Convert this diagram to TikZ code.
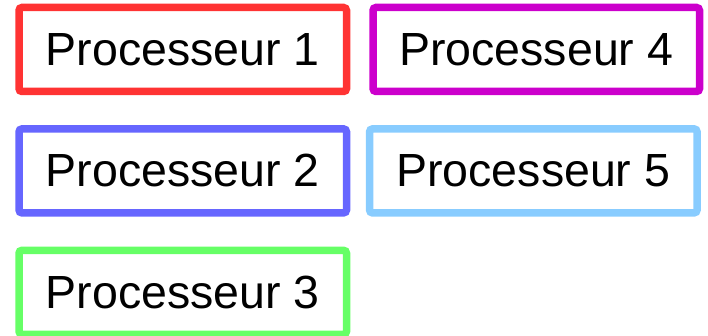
\documentclass[tikz,border=0pt]{standalone}
\usepackage{fontspec}
\setmainfont{Liberation Sans}
\definecolor{cA}{HTML}{FF3333}
\definecolor{cB}{HTML}{6666FF}
\definecolor{cC}{HTML}{66FF66}
\definecolor{cD}{HTML}{CC00CC}
\definecolor{cE}{HTML}{88CCFF}
\begin{document}
\begin{tikzpicture}[x=1pt,y=-1pt,
  proc/.style={draw=#1, line width=7.5pt, rounded corners=3pt, minimum width=327.5pt, minimum height=84pt, inner sep=0pt, font=\fontsize{46.5}{50}\selectfont, text=black}]
\useasboundingbox (0,0) rectangle (708,336);
\node[proc=cA] (p1) at (182.75,49.5) {Processeur 1};
\node[proc=cB] (p2) at (182.75,170.9) {Processeur 2};
\node[proc=cC] (p3) at (182.75,292.3) {Processeur 3};
\node[proc=cD, minimum width=326.5pt] (p4) at (536.25,49.5) {Processeur 4};
\node[proc=cE] (p5) at (533.3,170.9) {Processeur 5};
\end{tikzpicture}
\end{document}
